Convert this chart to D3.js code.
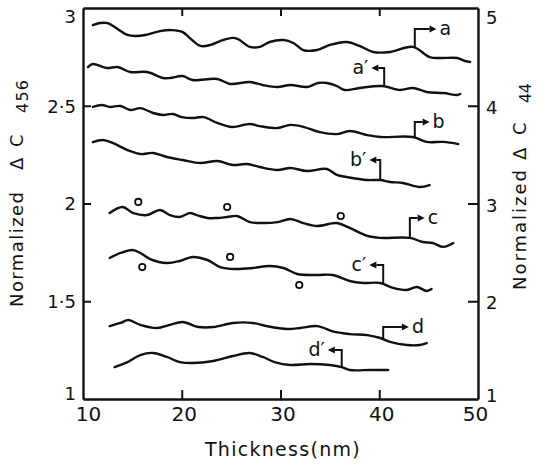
<!DOCTYPE html>
<html><head><meta charset="utf-8">
<script src="https://cdn.jsdelivr.net/npm/d3@7"></script>
<style>body{margin:0;background:#fff}</style>
</head><body>
<svg id="c" width="543" height="466"></svg>
<script>
// ---- data (thickness in nm, normalized values) ----
const xTicks = [10, 20, 30, 40, 50];
const topTicks = [20, 30, 40];
const leftTicks = [1, 1.5, 2, 2.5, 3];
const rightTicks = [1, 2, 3, 4, 5];

// left axis (ΔC456) series
const curveA = [[11.0,2.913],[11.7,2.923],[12.5,2.923],[13.5,2.893],[14.5,2.862],[15.3,2.857],[16.3,2.862],[17.8,2.882],[19.0,2.887],[20.1,2.877],[20.8,2.847],[21.9,2.806],[22.9,2.811],[23.9,2.831],[25.1,2.847],[25.7,2.841],[26.9,2.801],[27.9,2.801],[28.9,2.826],[30.3,2.836],[31.3,2.821],[32.3,2.785],[33.7,2.785],[35.0,2.811],[36.7,2.826],[38.0,2.806],[39.4,2.775],[41.1,2.775],[43.4,2.801],[45.1,2.749],[46.2,2.744],[47.9,2.744],[48.7,2.729],[49.2,2.724]];
const curveB = [[11.0,2.494],[11.9,2.504],[12.7,2.494],[13.8,2.499],[14.8,2.478],[15.8,2.488],[17.1,2.463],[18.1,2.453],[19.1,2.458],[20.0,2.442],[21.1,2.437],[22.2,2.442],[23.6,2.412],[25.1,2.391],[26.9,2.407],[27.9,2.396],[29.7,2.386],[31.0,2.402],[32.4,2.391],[33.9,2.366],[35.7,2.355],[37.0,2.371],[38.8,2.350],[40.1,2.340],[43.4,2.340],[44.8,2.315],[46.5,2.315],[48.0,2.304]];
const curveC = [[12.7,1.951],[14.0,1.982],[15.1,1.951],[16.5,1.941],[17.8,1.967],[18.8,1.941],[19.8,1.931],[20.8,1.951],[21.5,1.941],[22.6,1.926],[23.6,1.926],[24.6,1.931],[25.6,1.936],[26.9,1.905],[28.2,1.900],[29.7,1.905],[31.0,1.921],[32.3,1.900],[33.7,1.885],[35.7,1.900],[37.0,1.875],[38.8,1.834],[40.1,1.824],[43.1,1.824],[44.4,1.803],[45.4,1.798],[46.5,1.778],[47.5,1.798]];
const curveD = [[12.7,1.373],[13.8,1.389],[14.6,1.404],[15.8,1.379],[17.5,1.363],[18.8,1.379],[20.1,1.394],[21.7,1.368],[23.2,1.368],[25.2,1.389],[27.2,1.389],[28.6,1.373],[30.7,1.358],[32.0,1.363],[33.7,1.373],[35.5,1.343],[37.0,1.332],[38.8,1.327],[40.1,1.312],[41.1,1.292],[42.8,1.276],[44.1,1.276],[44.8,1.286]];

// right axis (ΔC44) series
const curveA2 = [[10.5,4.396],[11.0,4.427],[12.4,4.386],[13.5,4.396],[14.8,4.345],[16.5,4.345],[18.1,4.284],[18.8,4.284],[20.1,4.304],[21.1,4.263],[23.6,4.274],[24.9,4.223],[26.9,4.243],[28.2,4.212],[29.7,4.192],[31.0,4.212],[32.7,4.192],[33.8,4.233],[34.7,4.233],[35.7,4.202],[36.5,4.161],[38.0,4.182],[40.3,4.202],[42.1,4.161],[43.4,4.182],[44.8,4.141],[46.5,4.130],[47.9,4.110],[48.2,4.120]];
const curveB2 = [[11.0,3.629],[12.0,3.650],[13.0,3.619],[14.5,3.547],[15.8,3.506],[17.1,3.517],[18.5,3.476],[20.1,3.445],[21.9,3.414],[23.6,3.435],[25.2,3.394],[26.6,3.404],[27.9,3.373],[29.7,3.343],[31.0,3.363],[32.7,3.332],[34.7,3.353],[35.7,3.292],[36.7,3.271],[38.8,3.240],[40.1,3.240],[41.1,3.220],[42.4,3.210],[44.1,3.169],[45.1,3.189]];
const curveC2 = [[12.7,2.442],[13.8,2.494],[15.0,2.524],[15.8,2.494],[16.8,2.432],[18.5,2.391],[19.8,2.412],[21.1,2.453],[22.6,2.422],[23.9,2.350],[25.4,2.330],[27.2,2.340],[28.9,2.361],[30.3,2.340],[31.7,2.279],[33.7,2.269],[35.3,2.269],[37.0,2.207],[38.4,2.187],[40.1,2.187],[41.4,2.136],[42.8,2.115],[43.8,2.146],[44.8,2.105],[45.3,2.125]];
const curveD2 = [[13.2,1.327],[14.5,1.378],[15.8,1.450],[17.1,1.471],[18.5,1.430],[19.8,1.378],[21.1,1.368],[23.2,1.389],[25.2,1.440],[26.9,1.471],[28.2,1.430],[29.4,1.378],[31.0,1.348],[33.0,1.358],[35.0,1.348],[36.2,1.327],[37.0,1.297],[39.1,1.297],[40.9,1.297]];

// open circles (experimental points)
const pointsC = [[15.6,2.008],[24.6,1.982],[36.1,1.936]];       // left axis
const pointsC2 = [[16.0,2.350],[24.9,2.453],[31.9,2.166]];      // right axis

// curve labels: name, axis, stem x, stem top, arrow tip x
const labelNames = ["a","a\u2032","b","b\u2032","c","c\u2032","d","d\u2032"];
const labelAxis  = ["L","R","L","R","L","R","L","R"];
const labelStemX = [43.6,40.5,43.6,40.1,43.1,40.4,40.4,36.2];
const labelTop   = [2.893,4.386,2.417,3.445,1.926,2.371,1.368,1.501];
const labelTipX  = [45.8,39.2,45.1,39.0,44.6,39.0,43.0,34.8];

// ---- drawing ----
const svg = d3.select("#c");
const x = d3.scaleLinear().domain([10,50]).range([83,478]);
const yL = d3.scaleLinear().domain([1,3]).range([399,8]);
const yR = d3.scaleLinear().domain([1,5]).range([399,8]);
const font = "DejaVu Sans, sans-serif";
const dotFmt = d => (Number.isInteger(d) ? String(d) : d3.format(".1f")(d).replace(".", "\u00B7"));

// axes
const gB = svg.append("g").attr("transform","translate(0,399)")
  .call(d3.axisBottom(x).tickValues(xTicks).tickSizeInner(-9).tickSizeOuter(0).tickPadding(8).tickFormat(d3.format("d")));
gB.selectAll("text").attr("font-size",20).attr("dy","0.72em")
  .attr("dx", d => d===10 ? 5 : (d===50 ? -3 : 2));
svg.append("g").attr("transform","translate(0,8)")
  .call(d3.axisTop(x).tickValues(topTicks).tickSizeInner(-8).tickSizeOuter(0).tickFormat(""));
const gL = svg.append("g").attr("transform","translate(83,0)")
  .call(d3.axisLeft(yL).tickValues(leftTicks).tickSizeInner(-8).tickSizeOuter(0).tickPadding(7).tickFormat(dotFmt));
gL.selectAll("text").attr("font-size",18).attr("dy", d => d===3 ? "0.8em" : (d===1 ? "0.0em" : "0.36em"));
const gR = svg.append("g").attr("transform","translate(478,0)")
  .call(d3.axisRight(yR).tickValues(rightTicks).tickSizeInner(-10).tickSizeOuter(0).tickPadding(8).tickFormat(d3.format("d")));
gR.selectAll("text").attr("font-size",18).attr("dy", d => d===5 ? "0.85em" : (d===1 ? "0.15em" : "0.42em"));
svg.selectAll(".domain").attr("stroke","#111").attr("stroke-width",2.4);
svg.selectAll(".tick line").attr("stroke","#111").attr("stroke-width",2);
svg.selectAll(".tick text").attr("font-family",font).attr("fill","#111");
gB.selectAll(".tick").filter(d => d===10 || d===50).select("line").remove();
gL.selectAll(".tick").filter(d => d===1 || d===3).select("line").remove();
gR.selectAll(".tick").filter(d => d===1 || d===5).select("line").remove();

// curves
const line = (ys) => d3.line().x(d => x(d[0])).y(d => ys(d[1])).curve(d3.curveCatmullRom.alpha(0.5));
const series = [
  {data:curveA, ys:yL},{data:curveA2, ys:yR},{data:curveB, ys:yL},{data:curveB2, ys:yR},
  {data:curveC, ys:yL},{data:curveC2, ys:yR},{data:curveD, ys:yL},{data:curveD2, ys:yR}
];
svg.append("g").selectAll("path").data(series).join("path")
  .attr("d", s => line(s.ys)(s.data))
  .attr("fill","none").attr("stroke","#111").attr("stroke-width",2.4)
  .attr("stroke-linecap","round").attr("stroke-linejoin","round");

// circles
const circ = svg.append("g").attr("fill","none").attr("stroke","#111").attr("stroke-width",1.8);
circ.selectAll(".cl").data(pointsC).join("circle").attr("class","cl")
  .attr("cx", d => x(d[0])).attr("cy", d => yL(d[1])).attr("r",3.2);
circ.selectAll(".cr").data(pointsC2).join("circle").attr("class","cr")
  .attr("cx", d => x(d[0])).attr("cy", d => yR(d[1])).attr("r",3.2);

// labels
function interp(data, xv){
  for (let i=0;i<data.length-1;i++){
    const [x0,y0]=data[i],[x1,y1]=data[i+1];
    if (xv>=x0 && xv<=x1) return y0+(y1-y0)*(xv-x0)/(x1-x0);
  }
  return data[data.length-1][1];
}
const lg = svg.append("g");
labelNames.forEach((name,i) => {
  const s = series[i];
  const ys = labelAxis[i]==="L" ? yL : yR;
  const sx = x(labelStemX[i]);
  const sy0 = ys(interp(s.data, labelStemX[i]));
  const sy1 = ys(labelTop[i]);
  const tx = x(labelTipX[i]);
  const dir = tx > sx ? 1 : -1;
  const head = 7;
  lg.append("path").attr("d", `M${sx},${sy0}V${sy1}H${tx - dir*head}`)
    .attr("fill","none").attr("stroke","#111").attr("stroke-width",2);
  lg.append("path").attr("d", `M${tx},${sy1}L${tx-dir*head},${sy1-3.5}L${tx-dir*head},${sy1+3.5}Z`)
    .attr("fill","#111");
  lg.append("text").attr("x", tx + dir*3).attr("y", sy1).attr("dy","0.3em")
    .attr("text-anchor", dir>0 ? "start" : "end")
    .attr("font-family",font).attr("font-size",19).attr("fill","#111").text(name);
});

// axis titles (rotated; parts placed along the text direction)
function vTitle(tx, ty, parts){
  const g = svg.append("g").attr("transform",`translate(${tx},${ty}) rotate(-90)`)
    .attr("font-family",font).attr("fill","#111");
  parts.forEach(p => {
    const t = g.append("text").attr("x",p.at).attr("y",p.sub ? 5 : 0)
      .attr("font-size",p.sub ? 16 : 18).text(p.text);
    if (p.len) t.attr("textLength",p.len).attr("lengthAdjust","spacing");
  });
}
vTitle(23, 307, [
  {text:"Normalized", at:0, len:115},
  {text:"\u0394", at:137},
  {text:"C", at:160},
  {text:"456", at:194, len:33, sub:true}
]);
vTitle(526, 290, [
  {text:"Normalized", at:0, len:120},
  {text:"\u0394", at:130},
  {text:"C", at:155},
  {text:"44", at:187, len:20, sub:true}
]);

svg.append("text").attr("x",283).attr("y",456).attr("text-anchor","middle")
  .attr("font-family",font).attr("font-size",19).attr("letter-spacing",1.3).attr("fill","#111")
  .text("Thickness(nm)");
</script>
</body></html>
